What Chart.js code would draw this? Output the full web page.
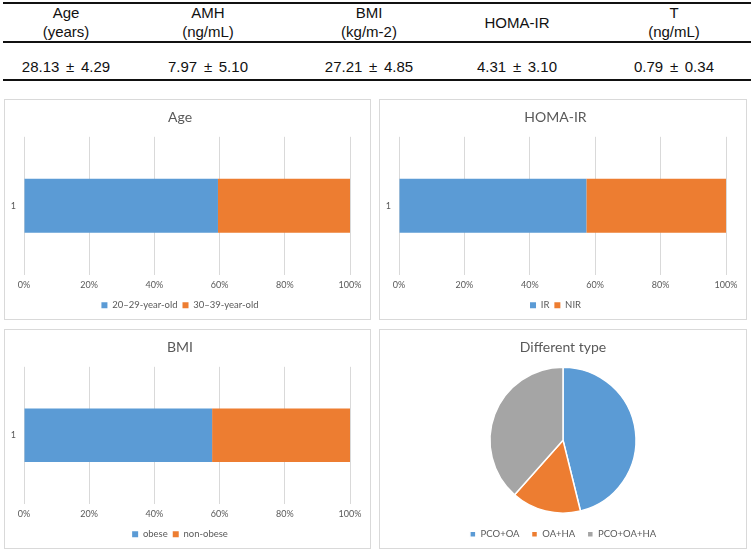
<!DOCTYPE html>
<html>
<head>
<meta charset="utf-8">
<script src="https://cdn.jsdelivr.net/npm/chart.js@4.4.1/dist/chart.umd.min.js"></script>
<style>
  body { margin: 0; background: #fff; width: 753px; height: 553px; position: relative; overflow: hidden; }
  .rule { position: absolute; left: 3px; width: 748px; height: 2px; background: #111; }
  .cell { position: absolute; width: 140px; text-align: center; font-family: "Liberation Sans", Arial, sans-serif;
          font-size: 15px; color: #111; line-height: 19px; white-space: pre; }
  .val { word-spacing: 2.5px; }
  .panel { position: absolute; box-sizing: border-box; border: 1px solid #d9d9d9; background: #fff; }
  .panel canvas { display: block; }
</style>
</head>
<body>
<div class="rule" style="top:2px;"></div>
<div class="rule" style="top:41px; height:1.5px;"></div>
<div class="rule" style="top:79px;"></div>
<div id="table"></div>

<div class="panel" style="left:4px; top:99px; width:367px; height:221px;"><canvas id="ageChart"></canvas></div>
<div class="panel" style="left:379px; top:99px; width:368px; height:221px;"><canvas id="homaChart"></canvas></div>
<div class="panel" style="left:4px; top:329px; width:367px; height:220px;"><canvas id="bmiChart"></canvas></div>
<div class="panel" style="left:379px; top:329px; width:368px; height:220px;"><canvas id="typeChart"></canvas></div>

<script>
// Summary table
const tableHeaders = [['Age', '(years)'], ['AMH', '(ng/mL)'], ['BMI', '(kg/m-2)'], ['HOMA-IR'], ['T', '(ng/mL)']];
const tableValues = ['28.13 \u00b1 4.29', '7.97 \u00b1 5.10', '27.21 \u00b1 4.85', '4.31 \u00b1 3.10', '0.79 \u00b1 0.34'];
const tableCenters = [66, 208, 369, 517, 674];

// Bar charts (percent of patients)
const barCategories = ['1'];
const ageLabels = ['20\u201329-year-old', '30\u201339-year-old'];
const ageValues = [59.5, 40.5];
const homaLabels = ['IR', 'NIR'];
const homaValues = [57.3, 42.7];
const bmiLabels = ['obese', 'non-obese'];
const bmiValues = [57.7, 42.3];

// Pie chart
const typeLabels = ['PCO+OA', 'OA+HA', 'PCO+OA+HA'];
const typeValues = [46.2, 15.4, 38.5];

const colors = ['#5B9BD5', '#ED7D31', '#A5A5A5'];
const textGray = '#595959';
const gridGray = '#d9d9d9';

// build table cells
const tableEl = document.getElementById('table');
tableHeaders.forEach((lines, i) => {
    const div = document.createElement('div');
    div.className = 'cell';
    div.style.left = (tableCenters[i] - 70) + 'px';
    div.style.top = lines.length === 1 ? '13px' : '3px';
    div.textContent = lines.join('\n');
    tableEl.appendChild(div);

    const val = document.createElement('div');
    val.className = 'cell val';
    val.style.left = (tableCenters[i] - 70) + 'px';
    val.style.top = '57px';
    val.textContent = tableValues[i];
    tableEl.appendChild(val);
});

Chart.defaults.font.family = 'Lato, "Open Sans", sans-serif';
Chart.defaults.color = textGray;
Chart.defaults.animation = false;

function titleOpts(text, padBottom) {
    return {
        display: true,
        text: text,
        color: textGray,
        font: { size: 14, weight: 'normal' },
        padding: { top: 9, bottom: padBottom }
    };
}

function legendOpts(pad) {
    return {
        position: 'bottom',
        labels: {
            boxWidth: 6,
            boxHeight: 6,
            padding: pad,
            color: textGray,
            font: { size: 9.5 }
        }
    };
}

// 100% stacked horizontal bar
function makeBar(id, title, labels, values) {
    const el = document.getElementById(id);
    el.width = el.parentNode.clientWidth;
    el.height = el.parentNode.clientHeight;
    return new Chart(el.getContext('2d'), {
        type: 'bar',
        data: {
            labels: barCategories,
            datasets: labels.map((lab, i) => ({
                label: lab,
                data: [values[i]],
                backgroundColor: colors[i],
                borderWidth: 0,
                categoryPercentage: 1,
                barPercentage: 0.39
            }))
        },
        options: {
            indexAxis: 'y',
            responsive: false,
            layout: { padding: { left: 5, right: 20, bottom: -1, top: 0 } },
            plugins: {
                title: titleOpts(title, 11),
                legend: legendOpts(5),
                tooltip: { enabled: false }
            },
            scales: {
                x: {
                    stacked: true,
                    min: 0,
                    max: 100,
                    border: { display: false },
                    grid: { color: gridGray, drawTicks: false },
                    ticks: {
                        stepSize: 20,
                        padding: 5,
                        color: textGray,
                        font: { size: 9 },
                        callback: v => v + '%'
                    }
                },
                y: {
                    stacked: true,
                    border: { display: false },
                    grid: { display: false, drawTicks: false },
                    ticks: { padding: 8, color: textGray, font: { size: 9 } },
                    afterFit: scale => { scale.width = 14; }
                }
            }
        }
    });
}

makeBar('ageChart', 'Age', ageLabels, ageValues);
makeBar('homaChart', 'HOMA-IR', homaLabels, homaValues);
makeBar('bmiChart', 'BMI', bmiLabels, bmiValues);

// pie of patient type
(function () {
    const el = document.getElementById('typeChart');
    el.width = el.parentNode.clientWidth;
    el.height = el.parentNode.clientHeight;
    new Chart(el.getContext('2d'), {
        type: 'pie',
        data: {
            labels: typeLabels,
            datasets: [{
                data: typeValues,
                backgroundColor: colors,
                borderColor: '#fff',
                borderWidth: 1.5,
                radius: 73
            }]
        },
        options: {
            responsive: false,
            layout: { padding: { bottom: -1 } },
            plugins: {
                title: titleOpts('Different type', 7),
                legend: legendOpts(12),
                tooltip: { enabled: false }
            }
        }
    });
})();
</script>
</body>
</html>
